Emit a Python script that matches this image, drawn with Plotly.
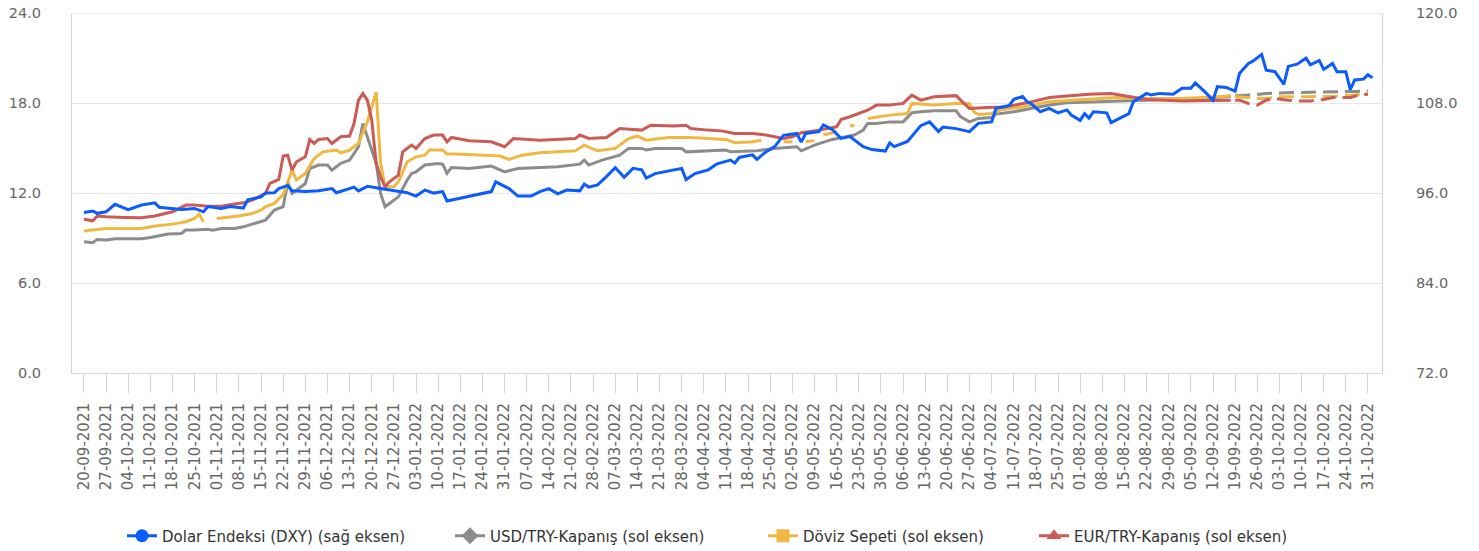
import plotly.graph_objects as go

# ---------------- data ----------------
tick_labels = [
    "20-09-2021", "27-09-2021", "04-10-2021", "11-10-2021", "18-10-2021", "25-10-2021",
    "01-11-2021", "08-11-2021", "15-11-2021", "22-11-2021", "29-11-2021", "06-12-2021",
    "13-12-2021", "20-12-2021", "27-12-2021", "03-01-2022", "10-01-2022", "17-01-2022",
    "24-01-2022", "31-01-2022", "07-02-2022", "14-02-2022", "21-02-2022", "28-02-2022",
    "07-03-2022", "14-03-2022", "21-03-2022", "28-03-2022", "04-04-2022", "11-04-2022",
    "18-04-2022", "25-04-2022", "02-05-2022", "09-05-2022", "16-05-2022", "23-05-2022",
    "30-05-2022", "06-06-2022", "13-06-2022", "20-06-2022", "27-06-2022", "04-07-2022",
    "11-07-2022", "18-07-2022", "25-07-2022", "01-08-2022", "08-08-2022", "15-08-2022",
    "22-08-2022", "29-08-2022", "05-09-2022", "12-09-2022", "19-09-2022", "26-09-2022",
    "03-10-2022", "10-10-2022", "17-10-2022", "24-10-2022", "31-10-2022",
]

# Dolar Endeksi (DXY) - right axis
dxy_dates = [
    "2021-09-20", "2021-09-22", "2021-09-23", "2021-09-27", "2021-09-29", "2021-10-04", "2021-10-07",
    "2021-10-12", "2021-10-13", "2021-10-18", "2021-10-20", "2021-10-25", "2021-10-27", "2021-10-28",
    "2021-11-02", "2021-11-04", "2021-11-09", "2021-11-10", "2021-11-15", "2021-11-16", "2021-11-18",
    "2021-11-19", "2021-11-23", "2021-11-24", "2021-11-29", "2021-12-02", "2021-12-07", "2021-12-08",
    "2021-12-14", "2021-12-15", "2021-12-17", "2021-12-22", "2021-12-28", "2021-12-30", "2022-01-03",
    "2022-01-05", "2022-01-07", "2022-01-11", "2022-01-12", "2022-01-17", "2022-01-20", "2022-01-26",
    "2022-01-27", "2022-02-01", "2022-02-03", "2022-02-08", "2022-02-10", "2022-02-14", "2022-02-16",
    "2022-02-18", "2022-02-23", "2022-02-24", "2022-02-25", "2022-03-01", "2022-03-03", "2022-03-07",
    "2022-03-09", "2022-03-11", "2022-03-15", "2022-03-16", "2022-03-18", "2022-03-23", "2022-03-28",
    "2022-03-29", "2022-03-31", "2022-04-05", "2022-04-07", "2022-04-12", "2022-04-13", "2022-04-14",
    "2022-04-19", "2022-04-20", "2022-04-22", "2022-04-26", "2022-04-28", "2022-05-03", "2022-05-04",
    "2022-05-05", "2022-05-10", "2022-05-11", "2022-05-13", "2022-05-17", "2022-05-19", "2022-05-24",
    "2022-05-26", "2022-05-31", "2022-06-01", "2022-06-02", "2022-06-07", "2022-06-10", "2022-06-14",
    "2022-06-16", "2022-06-17", "2022-06-22", "2022-06-27", "2022-06-29", "2022-07-04", "2022-07-05",
    "2022-07-08", "2022-07-11", "2022-07-13", "2022-07-14", "2022-07-15", "2022-07-19", "2022-07-21",
    "2022-07-25", "2022-07-27", "2022-07-28", "2022-08-01", "2022-08-02", "2022-08-03", "2022-08-04",
    "2022-08-09", "2022-08-10", "2022-08-12", "2022-08-16", "2022-08-17", "2022-08-22", "2022-08-23",
    "2022-08-25", "2022-08-30", "2022-09-01", "2022-09-05", "2022-09-06", "2022-09-08", "2022-09-12",
    "2022-09-13", "2022-09-15", "2022-09-19", "2022-09-20", "2022-09-22", "2022-09-23", "2022-09-27",
    "2022-09-28", "2022-09-30", "2022-10-04", "2022-10-05", "2022-10-07", "2022-10-11", "2022-10-12",
    "2022-10-14", "2022-10-17", "2022-10-19", "2022-10-20", "2022-10-24", "2022-10-25", "2022-10-26",
    "2022-10-28", "2022-10-31", "2022-11-01",
]
dxy_vals = [
    93.4, 93.6, 93.3, 93.5, 94.5, 93.8, 94.4,
    94.7, 94.1, 93.95, 93.8, 93.95, 93.5, 94.2,
    93.95, 94.2, 94.0, 95.1, 95.5, 96.0, 96.05,
    96.6, 97.0, 96.3, 96.2, 96.3, 96.6, 96.05,
    96.8, 96.3, 96.9, 96.6, 96.2, 96.05, 95.6,
    96.4, 96.0, 96.2, 94.95, 95.35, 95.7, 96.2,
    97.5, 96.6, 95.6, 95.6, 96.2, 96.6, 95.9,
    96.4, 96.3, 97.2, 96.8, 97.1, 98.2, 99.4,
    98.1, 99.3, 99.1, 98.0, 98.6, 98.9, 99.3,
    97.8, 98.6, 99.1, 99.9, 100.4, 100.0, 100.75,
    101.1, 100.5, 101.5, 102.2, 103.7, 103.95, 102.8,
    103.95, 104.2, 105.1, 104.5, 103.3, 103.55, 102.2,
    101.8, 101.6, 102.7, 102.2, 102.9, 105.0, 105.5,
    104.2, 104.8, 104.6, 104.2, 105.3, 105.5, 107.3,
    107.7, 108.5, 108.9, 108.2, 107.9, 106.85, 107.3,
    106.7, 107.1, 106.4, 105.7, 106.6, 106.0, 106.85,
    106.7, 105.4, 106.0, 106.6, 108.2, 109.3, 109.1,
    109.3, 109.2, 110.0, 110.0, 110.7, 109.6, 108.4,
    110.2, 110.1, 109.6, 112.0, 113.3, 113.6, 114.5,
    112.4, 112.2, 110.5, 112.9, 113.2, 114.0, 113.1,
    113.7, 112.5, 113.3, 112.2, 112.2, 109.8, 111.1,
    111.2, 111.8, 111.4,
]

# USD/TRY-Kapanış - left axis
usd_dates = [
    "2021-09-20", "2021-09-22", "2021-09-23", "2021-09-27", "2021-09-29", "2021-10-07", "2021-10-11",
    "2021-10-13", "2021-10-15", "2021-10-20", "2021-10-21", "2021-10-25", "2021-10-28", "2021-10-29",
    "2021-11-02", "2021-11-05", "2021-11-09", "2021-11-11", "2021-11-16", "2021-11-18", "2021-11-22",
    "2021-11-23", "2021-11-24", "2021-11-29", "2021-11-30", "2021-12-02", "2021-12-06", "2021-12-07",
    "2021-12-09", "2021-12-13", "2021-12-15", "2021-12-16", "2021-12-17", "2021-12-21", "2021-12-22",
    "2021-12-23", "2021-12-24", "2021-12-28", "2021-12-30", "2021-12-31", "2022-01-03", "2022-01-05",
    "2022-01-10", "2022-01-11", "2022-01-12", "2022-01-13", "2022-01-19", "2022-01-24", "2022-01-26",
    "2022-01-31", "2022-02-03", "2022-02-10", "2022-02-16", "2022-02-23", "2022-02-24", "2022-02-25",
    "2022-03-02", "2022-03-08", "2022-03-10", "2022-03-15", "2022-03-16", "2022-03-18", "2022-03-28",
    "2022-03-29", "2022-04-05", "2022-04-11", "2022-04-12", "2022-04-20", "2022-04-26", "2022-05-03",
    "2022-05-04", "2022-05-09", "2022-05-13", "2022-05-17", "2022-05-20", "2022-05-24", "2022-05-25",
    "2022-05-27", "2022-06-01", "2022-06-06", "2022-06-07", "2022-06-08", "2022-06-10", "2022-06-15",
    "2022-06-22", "2022-06-23", "2022-06-27", "2022-06-29", "2022-07-04", "2022-07-05", "2022-07-11",
    "2022-07-15", "2022-07-21", "2022-07-27", "2022-08-05", "2022-08-17", "2022-08-26", "2022-09-07",
    "2022-09-15", "2022-09-16",
    "2022-09-19", "2022-09-23", "2022-09-28", "2022-10-03", "2022-10-07", "2022-10-12", "2022-10-17",
    "2022-10-21", "2022-10-26", "2022-10-31",
]
usd_vals = [
    8.75, 8.69, 8.91, 8.87, 8.95, 8.95, 9.04,
    9.13, 9.27, 9.31, 9.53, 9.53, 9.58, 9.53,
    9.64, 9.64, 9.75, 9.93, 10.2, 10.87, 11.09,
    12.7, 11.98, 12.64, 13.64, 13.87, 13.87, 13.53,
    13.98, 14.2, 15.09, 16.64, 15.75, 13.98, 11.98,
    11.09, 11.31, 11.75, 12.87, 13.31, 13.42, 13.87,
    13.98, 13.93, 13.31, 13.71, 13.64, 13.71, 13.8,
    13.42, 13.64, 13.71, 13.75, 13.93, 14.2, 13.87,
    14.2, 14.53, 14.98, 14.98, 14.87, 14.98, 14.98,
    14.75, 14.82, 14.87, 14.75, 14.82, 14.98, 15.09,
    14.82, 15.2, 15.58, 15.71, 15.87, 16.2, 16.64,
    16.64, 16.75, 16.75, 17.09, 17.36, 17.42, 17.49,
    17.49, 17.09, 16.75, 16.98, 17.04, 17.27, 17.42,
    17.64, 17.87, 18.02, 18.09, 18.15, 18.24, 18.31,
    18.42, 18.44,
    18.5, 18.55, 18.64, 18.69, 18.71, 18.73, 18.73,
    18.75, 18.78, 18.82,
]

# Döviz Sepeti - left axis (None = no value that day)
basket_dates = [
    "2021-09-20", "2021-09-22", "2021-09-27", "2021-10-07", "2021-10-12", "2021-10-18", "2021-10-21",
    "2021-10-25", "2021-10-26", "2021-10-27", "2021-10-28", "2021-11-01", "2021-11-03", "2021-11-08",
    "2021-11-11", "2021-11-15", "2021-11-16", "2021-11-18", "2021-11-22", "2021-11-24", "2021-11-25",
    "2021-11-29", "2021-12-01", "2021-12-03", "2021-12-08", "2021-12-09", "2021-12-13", "2021-12-15",
    "2021-12-17", "2021-12-20", "2021-12-21", "2021-12-22", "2021-12-23", "2021-12-27", "2021-12-28",
    "2021-12-30", "2022-01-03", "2022-01-05", "2022-01-06", "2022-01-11", "2022-01-12", "2022-01-14",
    "2022-01-24", "2022-01-28", "2022-02-01", "2022-02-04", "2022-02-10", "2022-02-22", "2022-02-24",
    "2022-03-01", "2022-03-07", "2022-03-10", "2022-03-14", "2022-03-16", "2022-03-23", "2022-03-30",
    "2022-04-11", "2022-04-13", "2022-04-19", "2022-04-21", "2022-04-22", "2022-04-28", "2022-05-02",
    "2022-05-03", "2022-05-05", "2022-05-09", "2022-05-10", "2022-05-11", "2022-05-16", "2022-05-17",
    "2022-05-19", "2022-05-20", "2022-05-23", "2022-05-25", "2022-06-01", "2022-06-07", "2022-06-08",
    "2022-06-15", "2022-06-22", "2022-06-27", "2022-06-28", "2022-06-29", "2022-07-04", "2022-07-06",
    "2022-07-13", "2022-07-21", "2022-08-01", "2022-08-11", "2022-08-22", "2022-09-01", "2022-09-13",
    "2022-09-16",
    "2022-09-19", "2022-09-21", "2022-09-26", "2022-09-28", "2022-10-03", "2022-10-05", "2022-10-10",
    "2022-10-12", "2022-10-17", "2022-10-19", "2022-10-24", "2022-10-26", "2022-10-31",
]
basket_vals = [
    9.47, 9.53, 9.64, 9.64, 9.8, 9.93, 10.09,
    10.31, 10.6, 10.09, None, 10.31, 10.38, 10.47,
    10.64, 10.87, 11.09, 11.31, 11.9, 13.53, 12.87,
    13.31, 14.31, 14.75, 14.87, 14.69, 14.87, 15.31,
    16.75, 17.75, 18.75, 13.98, 12.42, 12.42, 12.75,
    14.09, 14.42, 14.53, 14.87, 14.87, 14.6, 14.6,
    14.53, 14.47, 14.24, 14.53, 14.69, 14.82, 15.2,
    14.82, 14.98, 15.64, 15.8, 15.53, 15.71, 15.71,
    15.58, 15.36, 15.42, 15.53, None, 15.42, 15.42,
    None, 15.42, 15.5, None, 15.87, 16.09, None,
    16.47, 16.53, None, 16.98, 17.2, 17.31, 17.98,
    17.87, 17.98, 17.98, 17.42, 17.24, 17.31, 17.55,
    17.75, 18.09, 18.24, 18.38, 18.31, 18.31, 18.42,
    18.5,
    18.45, 18.38, 18.31, 18.31, 18.42, 18.42, 18.45,
    18.45, 18.45, 18.45, 18.53, 18.53, 18.75,
]

# EUR/TRY-Kapanış - left axis
eur_dates = [
    "2021-09-20", "2021-09-22", "2021-09-23", "2021-09-27", "2021-10-01", "2021-10-07", "2021-10-12",
    "2021-10-14", "2021-10-18", "2021-10-21", "2021-10-25", "2021-10-28", "2021-11-02", "2021-11-05",
    "2021-11-09", "2021-11-11", "2021-11-16", "2021-11-17", "2021-11-19", "2021-11-22", "2021-11-23",
    "2021-11-24", "2021-11-25", "2021-11-29", "2021-11-30", "2021-12-01", "2021-12-02", "2021-12-06",
    "2021-12-07", "2021-12-09", "2021-12-13", "2021-12-14", "2021-12-15", "2021-12-16", "2021-12-17",
    "2021-12-20", "2021-12-21", "2021-12-22", "2021-12-23", "2021-12-24", "2021-12-28", "2021-12-29",
    "2021-12-31", "2022-01-03", "2022-01-05", "2022-01-07", "2022-01-11", "2022-01-12", "2022-01-13",
    "2022-01-19", "2022-01-24", "2022-01-26", "2022-01-31", "2022-02-02", "2022-02-10", "2022-02-22",
    "2022-02-23", "2022-02-25", "2022-03-03", "2022-03-08", "2022-03-11", "2022-03-15", "2022-03-17",
    "2022-03-24", "2022-03-29", "2022-03-30", "2022-04-05", "2022-04-08", "2022-04-13", "2022-04-19",
    "2022-04-22", "2022-04-28", "2022-05-02", "2022-05-04", "2022-05-10", "2022-05-16", "2022-05-17",
    "2022-05-19", "2022-05-25", "2022-05-27", "2022-06-01", "2022-06-06", "2022-06-08", "2022-06-10",
    "2022-06-15", "2022-06-22", "2022-06-23", "2022-06-27", "2022-07-01", "2022-07-07", "2022-07-14",
    "2022-07-21", "2022-07-27", "2022-08-01", "2022-08-03", "2022-08-10", "2022-08-17", "2022-08-22",
    "2022-09-01", "2022-09-13", "2022-09-16",
    "2022-09-19", "2022-09-20", "2022-09-22", "2022-09-26", "2022-09-28", "2022-09-30", "2022-10-05",
    "2022-10-07", "2022-10-12", "2022-10-17", "2022-10-19", "2022-10-25", "2022-10-27", "2022-10-31",
]
eur_vals = [
    10.25, 10.15, 10.47, 10.42, 10.38, 10.35, 10.47,
    10.6, 10.75, 11.2, 11.2, 11.13, 11.13, 11.27,
    11.35, 11.53, 11.98, 12.64, 12.91, 14.47, 14.53,
    13.53, 14.09, 14.42, 15.58, 15.31, 15.58, 15.64,
    15.31, 15.76, 15.8, 16.64, 18.2, 18.64, 18.2,
    16.87, 13.98, 13.09, 12.42, 12.75, 13.2, 14.75,
    15.2, 14.98, 15.64, 15.87, 15.87, 15.42, 15.71,
    15.49, 15.42, 15.42, 15.09, 15.64, 15.53, 15.64,
    15.87, 15.64, 15.71, 16.31, 16.24, 16.2, 16.53,
    16.47, 16.53, 16.31, 16.2, 16.15, 15.98, 15.98,
    15.87, 15.64, 15.76, 16.02, 16.2, 16.42, 16.91,
    17.09, 17.53, 17.87, 17.87, 17.98, 18.53, 18.2,
    18.42, 18.5, 18.2, 17.64, 17.71, 17.75, 18.02,
    18.38, 18.47, 18.53, 18.6, 18.64, 18.38, 18.24,
    18.15, 18.2, 18.2,
    18.2, 18.2, 17.98, 17.87, 18.2, 18.31, 18.2,
    18.15, 18.15, 18.24, 18.38, 18.38, 18.53, 18.6,
]

forecast_start = "2022-09-19"   # from here the TRY series are drawn dashed

series_names = [
    "Dolar Endeksi (DXY) (sağ eksen)",
    "USD/TRY-Kapanış (sol eksen)",
    "Döviz Sepeti (sol eksen)",
    "EUR/TRY-Kapanış (sol eksen)",
]
series_colors = ["#0a5cff", "#8c8c8c", "#f0b840", "#cc5a55"]
legend_symbols = ["circle", "diamond", "square", "triangle-up"]

left_ticks = [0, 6, 12, 18, 24]
right_ticks = [72, 84, 96, 108, 120]

# ---------------- figure ----------------
FONT = "DejaVu Sans"
LABEL = "#666666"
AXIS = "#ccd6eb"
GRID = "#e6e6e6"
LW = 3
DASH = "15px,7px"

W, H = 1479, 551
PLOT_L, PLOT_R, PLOT_T, PLOT_B = 72, 1382, 13, 373      # px of the plot box
ML, MT, MR, MB = PLOT_L, PLOT_T, W - PLOT_R, H - PLOT_B
PW, PH = PLOT_R - PLOT_L, PLOT_B - PLOT_T
EPS = 1.0005          # tiny headroom so the top grid line is not clipped


def split(dates, vals, cut):
    a = [(d, v) for d, v in zip(dates, vals) if d < cut]
    b = [(d, v) for d, v in zip(dates, vals) if d >= cut]
    return ([d for d, _ in a], [v for _, v in a]), ([d for d, _ in b], [v for _, v in b])


fig = go.Figure()

fig.add_trace(go.Scatter(x=dxy_dates, y=dxy_vals, mode="lines", yaxis="y2",
                         line=dict(color=series_colors[0], width=LW), showlegend=False,
                         name=series_names[0]))

for (dates, vals), color, name in zip(
        [(usd_dates, usd_vals), (basket_dates, basket_vals), (eur_dates, eur_vals)],
        series_colors[1:], series_names[1:]):
    (d1, v1), (d2, v2) = split(dates, vals, forecast_start)
    fig.add_trace(go.Scatter(x=d1, y=v1, mode="lines", line=dict(color=color, width=LW),
                             showlegend=False, name=name, connectgaps=False))
    fig.add_trace(go.Scatter(x=d2, y=v2, mode="lines", line=dict(color=color, width=LW, dash=DASH),
                             showlegend=False, name=name))

# legend entries: one small legend per series (px of each entry's left edge)
legend_left_px = [122, 450, 763, 1034]
legend_mid_y_px = 536
legend_ids = ["legend", "legend2", "legend3", "legend4"]
legend_layout = {}
for name, color, sym, lid, lx in zip(series_names, series_colors, legend_symbols,
                                     legend_ids, legend_left_px):
    fig.add_trace(go.Scatter(x=[None], y=[None], mode="lines+markers", name=name,
                             legend=lid, line=dict(color=color, width=LW),
                             marker=dict(color=color, symbol=sym, size=13)))
    legend_layout[lid] = dict(
        orientation="h", x=(lx - PLOT_L) / PW, xanchor="left",
        y=(PLOT_B - legend_mid_y_px) / PH, yanchor="middle",
        font=dict(family=FONT, size=15, color="#333333"),
        bgcolor="rgba(0,0,0,0)", borderwidth=0,
    )

# top grid line (plotly drops the grid line lying on the plot edge)
fig.add_shape(type="line", xref="paper", x0=0, x1=1, yref="y",
              y0=left_ticks[-1], y1=left_ticks[-1],
              line=dict(color=GRID, width=1), layer="below")

tick_vals = [f"{t[6:10]}-{t[3:5]}-{t[0:2]}" for t in tick_labels]

fig.update_layout(
    width=W, height=H,
    margin=dict(l=ML, r=MR, t=MT, b=MB, autoexpand=False),
    paper_bgcolor="white", plot_bgcolor="white",
    font=dict(family=FONT, size=14, color=LABEL),
    showlegend=True,
    xaxis=dict(
        type="date", automargin=False,
        range=["2021-09-15 07:12", "2022-11-03 04:05"],
        rangebreaks=[dict(bounds=["sat", "mon"])],
        tickmode="array", tickvals=tick_vals, ticktext=tick_labels,
        tickangle=-90, ticks="outside", ticklen=19, tickcolor=AXIS, tickwidth=1,
        ticklabelstandoff=4,
        showline=True, linecolor=AXIS, linewidth=1, showgrid=False, zeroline=False,
        tickfont=dict(family=FONT, size=15, color=LABEL),
    ),
    yaxis=dict(
        automargin=False, ticklabeloverflow="allow",
        range=[0, 24 * EPS], tickmode="array", tickvals=left_ticks, tickformat=".1f",
        showline=True, linecolor=AXIS, linewidth=1, gridcolor=GRID, gridwidth=1,
        zeroline=False, ticks="", ticklabelstandoff=27,
        tickfont=dict(family=FONT, size=14.5, color=LABEL),
    ),
    yaxis2=dict(
        automargin=False, ticklabeloverflow="allow",
        range=[72, 72 + 48 * EPS], tickmode="array", tickvals=right_ticks,
        tickformat=".1f",
        overlaying="y", side="right", showline=True, linecolor=AXIS, linewidth=1,
        showgrid=False, zeroline=False, ticks="", ticklabelstandoff=30,
        tickfont=dict(family=FONT, size=14.5, color=LABEL),
    ),
    **legend_layout,
)

# the page itself adds no margin around the 1479x551 figure; no mode bar
fig.write_html("out.html", config={"displayModeBar": False},
               post_script="document.body.style.margin='0px';document.body.style.overflow='hidden';")
